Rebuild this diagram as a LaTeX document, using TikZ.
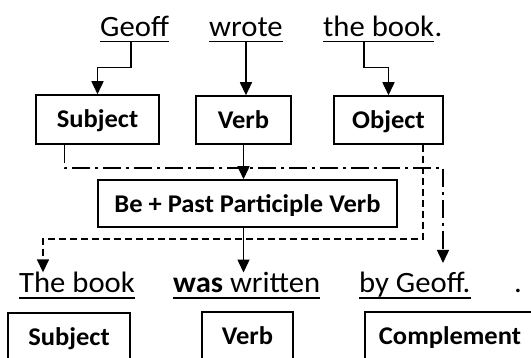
\documentclass[tikz,border=0pt]{standalone}
\usepackage{fontspec}
\setmainfont{Carlito}[FakeStretch=1.04]
\usetikzlibrary{arrows.meta}
\begin{document}
\begin{tikzpicture}[x=1pt,y=-1pt,
  box/.style={draw, line width=1.5pt, font=\fontsize{25.5}{30}\selectfont\bfseries, inner sep=0pt, fill=white, text height=17pt, text depth=0pt},
  word/.style={inner sep=0pt, anchor=base west, font=\fontsize{29.5}{34}\selectfont},
  uline/.style={line width=1.8pt},
  conn/.style={line width=1.5pt, -{Triangle[width=12pt,length=13pt]}},
  dsh/.style={conn, dash pattern=on 7pt off 4pt},
  dshdot/.style={conn, dash pattern=on 18pt off 5pt on 3pt off 5pt}]
\clip (0,0) rectangle (531,358);
\fill[white] (0,0) rectangle (531,358);
% top sentence
\node[word] (geoff) at (100,37) {Geoff};
\node[word] (wrote) at (209,37) {wrote};
\node[word] (thebook) at (323,37) {the book};
\node[word] (dot1) at (thebook.base east) {.};
\foreach \w in {geoff,wrote,thebook}
  \draw[uline] ([yshift=-4.5pt]\w.base west) -- ([yshift=-4.5pt]\w.base east);
% top boxes
\node[box, minimum width=123pt, minimum height=49pt] (subjT) at (97.5,119.5) {Subject};
\node[box, minimum width=95pt, minimum height=48pt] (verbT) at (243.5,120) {Verb};
\node[box, minimum width=109pt, minimum height=48pt] (objT) at (388.5,120) {Object};
% middle box
\node[box, font=\fontsize{25.5}{30}\selectfont\bfseries, text height=18pt, minimum width=299pt, minimum height=47pt] (beB) at (247.5,203.5) {Be + Past Participle Verb};
% bottom sentence
\node[word] (thebk) at (19,293) {The book};
\node[word] (waswr) at (173,293) {\textbf{was} written};
\node[word] (bygeoff) at (359,293) {by Geoff.};
\node[word] (dot2) at (514,293) {.};
\foreach \w in {thebk,waswr,bygeoff}
  \draw[uline] ([yshift=-5pt]\w.base west) -- ([yshift=-5pt]\w.base east);
% bottom boxes
\node[box, minimum width=122pt, minimum height=49pt] (subjB) at (69,337.5) {Subject};
\node[box, minimum width=91pt, minimum height=49pt] (verbB) at (247.5,336.5) {Verb};
\node[box, minimum width=170pt, minimum height=49pt] (compB) at (450,336.5) {Complement};
% connectors
\draw[conn] ([xshift=-3.5pt,yshift=-4.5pt]geoff.base) -- ++(0,26) -| (subjT.north);
\draw[conn] ([yshift=-4.5pt]wrote.base) -- (wrote.base |- verbT.north);
\draw[conn] ([xshift=-14.5pt,yshift=-4.5pt]thebook.base) -- ++(0,26) -| (objT.north);
\draw[conn] (verbT.south) -- (verbT.south |- beB.north);
\draw[conn] (verbT.south |- beB.south) -- (verbT.south |- waswr.north);
\coordinate (dl) at (43,239);
\draw[dsh] ([xshift=-21pt]objT.south east) |- (dl) -- (dl |- thebk.north);
\coordinate (dr) at (443,168);
\coordinate (drt) at (443,263);
\draw[dshdot] ([xshift=29pt]subjT.south west) |- (dr) -- (drt);
\end{tikzpicture}
\end{document}
